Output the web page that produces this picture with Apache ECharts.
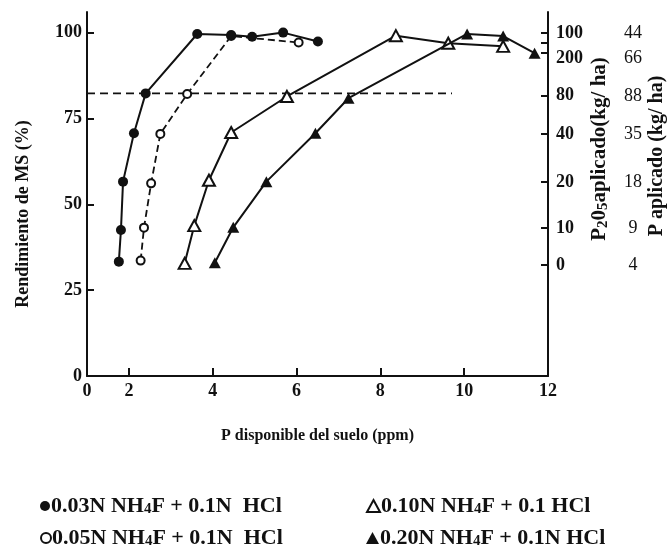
<!DOCTYPE html>
<html>
<head>
<meta charset="utf-8">
<script src="https://cdn.jsdelivr.net/npm/echarts@6/dist/echarts.min.js"></script>
<style>
  html, body { margin: 0; padding: 0; background: #fff; }
  #chart { width: 668px; height: 553px; }
</style>
</head>
<body>
<div id="chart"></div>
<script>
// Extractant series: soil P (ppm) vs. dry-matter yield (%)
const seriesNames = [
  '0.03N NH4F + 0.1N  HCl',
  '0.05N NH4F + 0.1N  HCl',
  '0.10N NH4F + 0.1 HCl',
  '0.20N NH4F + 0.1N HCl'
];
const soilP_a = [1.76, 1.81, 1.86, 2.12, 2.40, 3.63, 4.44, 4.94, 5.68, 6.51];
const yield_a = [33.3, 42.5, 56.6, 70.7, 82.3, 99.6, 99.3, 98.8, 100, 97.4];
const soilP_b = [2.28, 2.36, 2.53, 2.75, 3.39, 4.44, 6.05];
const yield_b = [33.6, 43.2, 56.1, 70.5, 82.1, 99.0, 97.1];
const soilP_c = [3.33, 3.56, 3.91, 4.44, 5.77, 8.37, 9.62, 10.93];
const yield_c = [32.8, 43.8, 57.0, 70.9, 81.4, 99.1, 96.9, 96.0];
const soilP_d = [4.05, 4.49, 5.28, 6.45, 7.24, 10.07, 10.93, 11.68];
const yield_d = [33.0, 43.3, 56.6, 70.7, 80.9, 99.6, 99.0, 94.0];

// Critical yield reference (dashed horizontal)
const refYield = 82.3;
const refSoilP = [1, 9.71];

// Bottom axis: origin labelled 0, scale starts at 1
const xTickValues = [2, 4, 6, 8, 10];
const xLabelValues = [1, 2, 4, 6, 8, 10, 12];
const yLabelValues = [0, 25, 50, 75, 100];

// Right axes: applied rate levels (placed at the yield they produced)
const rateLevels = [99.9, 92.6, 81.6, 70.5, 56.5, 43.1, 32.3];
const p2o5Labels = ['100', '200', '80', '40', '20', '10', '0'];
const pLabels = ['44', '66', '88', '35', '18', '9', '4'];
const rightTickLevels = [99.9, 97.0, 94.1, 81.6, 70.5, 56.5, 43.1, 32.3];

const FONT = 'Liberation Serif';
const INK = '#111';

function pairs(xs, ys) { return xs.map((x, i) => [x, ys[i]]); }
function levelLabel(labels) {
  return v => {
    const i = rateLevels.findIndex(l => Math.abs(l - v) < 1e-6);
    return i >= 0 ? labels[i] : '';
  };
}
function subFormat(name) { return name.replace('NH4F', 'NH{s|4}F'); }

const richSub = {
  s: { fontSize: 15, fontFamily: FONT, fontWeight: 'bold', color: INK, verticalAlign: 'bottom', lineHeight: 13 }
};

// one legend entry per box so the two columns line up
const legendSlots = [
  { idx: 0, left: 40, top: 495, icon: 'circle', w: 10, h: 10 },
  { idx: 1, left: 40, top: 527, icon: 'circle', w: 10, h: 10 },
  { idx: 2, left: 366, top: 495, icon: 'triangle', w: 13, h: 12 },
  { idx: 3, left: 366, top: 527, icon: 'triangle', w: 13, h: 12 }
];

const chart = echarts.init(document.getElementById('chart'), null, { renderer: 'canvas' });

const lineBase = {
  type: 'line',
  xAxisIndex: 0,
  yAxisIndex: 0,
  symbolSize: 9,
  lineStyle: { color: INK, width: 2 },
  itemStyle: { color: INK, borderColor: INK, borderWidth: 0 },
  animation: false,
  z: 3
};

chart.setOption({
  backgroundColor: '#fff',
  animation: false,
  grid: { left: 87, right: 120, top: 12, bottom: 177 },
  xAxis: {
    type: 'value', min: 1, max: 12,
    name: 'P disponible del suelo (ppm)',
    nameLocation: 'middle', nameGap: 52,
    nameTextStyle: { fontFamily: FONT, fontSize: 16, fontWeight: 'bold', color: INK },
    axisLine: { onZero: false, lineStyle: { color: INK, width: 2 } },
    axisTick: { show: true, inside: true, length: 8, customValues: xTickValues, lineStyle: { color: INK, width: 2 } },
    axisLabel: {
      customValues: xLabelValues, margin: 6,
      formatter: v => (v === 1 ? '0' : String(v)),
      fontFamily: FONT, fontSize: 18, fontWeight: 'bold', color: INK
    },
    splitLine: { show: false }
  },
  yAxis: [
    {
      type: 'value', min: 0, max: 106, position: 'left',
      name: 'Rendimiento de MS (%)',
      nameLocation: 'middle', nameGap: 55, nameRotate: 90,
      nameTextStyle: { fontFamily: FONT, fontSize: 18, fontWeight: 'bold', color: INK, padding: [0, 0, 0, -40] },
      axisLine: { show: true, lineStyle: { color: INK, width: 2 } },
      axisTick: { show: true, inside: true, length: 7, customValues: [25, 50, 75, 100], lineStyle: { color: INK, width: 2 } },
      axisLabel: { customValues: yLabelValues, margin: 5, fontFamily: FONT, fontSize: 18, fontWeight: 'bold', color: INK },
      splitLine: { show: false }
    },
    {
      type: 'value', min: 0, max: 106, position: 'right',
      axisLine: { show: true, lineStyle: { color: INK, width: 2 } },
      axisTick: { show: true, inside: true, length: 7, customValues: rightTickLevels, lineStyle: { color: INK, width: 2 } },
      axisLabel: {
        customValues: rateLevels, margin: 8, align: 'left',
        formatter: levelLabel(p2o5Labels),
        fontFamily: FONT, fontSize: 18, fontWeight: 'bold', color: INK
      },
      splitLine: { show: false }
    },
    {
      type: 'value', min: 0, max: 106, position: 'right',
      axisLine: { show: false },
      axisTick: { show: false },
      axisLabel: {
        customValues: rateLevels, margin: 85, align: 'center',
        formatter: levelLabel(pLabels),
        fontFamily: FONT, fontSize: 18, color: INK
      },
      splitLine: { show: false }
    }
  ],
  legend: legendSlots.map(s => ({
    left: s.left, top: s.top, orient: 'horizontal', padding: 0, itemGap: 0,
    itemWidth: s.w, itemHeight: s.h,
    data: [{ name: seriesNames[s.idx], icon: s.icon }],
    formatter: subFormat,
    textStyle: { fontFamily: FONT, fontSize: 22, fontWeight: 'bold', color: INK, padding: [0, 0, 0, -4], rich: richSub },
    selectedMode: false
  })),
  graphic: [
    {
      type: 'text', x: 600, y: 149, rotation: Math.PI / 2,
      style: {
        text: 'P{s|2}0{s|5}aplicado(kg/ ha)',
        fontFamily: FONT, fontSize: 21, fontWeight: 'bold', fill: INK,
        align: 'center', verticalAlign: 'middle',
        rich: { s: { fontSize: 15, fontFamily: FONT, fontWeight: 'bold', fill: INK, verticalAlign: 'bottom', lineHeight: 13 } }
      }
    },
    {
      type: 'text', x: 657, y: 156, rotation: Math.PI / 2,
      style: {
        text: 'P aplicado (kg/ ha)',
        fontFamily: FONT, fontSize: 20, fontWeight: 'bold', fill: INK,
        align: 'center', verticalAlign: 'middle'
      }
    }
  ],
  series: [
    Object.assign({}, lineBase, {
      name: seriesNames[0], symbol: 'circle', symbolSize: 10,
      data: pairs(soilP_a, yield_a), z: 4
    }),
    Object.assign({}, lineBase, {
      name: seriesNames[1], symbol: 'circle', symbolSize: 8,
      lineStyle: { color: INK, width: 1.8, type: [7, 4] },
      itemStyle: { color: '#fff', borderColor: INK, borderWidth: 2 },
      data: pairs(soilP_b, yield_b)
    }),
    Object.assign({}, lineBase, {
      name: seriesNames[2], symbol: 'triangle', symbolSize: [12, 11],
      itemStyle: { color: '#fff', borderColor: INK, borderWidth: 2 },
      data: pairs(soilP_c, yield_c)
    }),
    Object.assign({}, lineBase, {
      name: seriesNames[3], symbol: 'triangle', symbolSize: [12, 11],
      data: pairs(soilP_d, yield_d), z: 4
    }),
    {
      type: 'line', name: 'ref', symbol: 'none', silent: true,
      xAxisIndex: 0, yAxisIndex: 0,
      lineStyle: { color: INK, width: 1.6, type: [8, 5] },
      data: refSoilP.map(x => [x, refYield]), z: 2
    }
  ]
});
</script>
</body>
</html>
